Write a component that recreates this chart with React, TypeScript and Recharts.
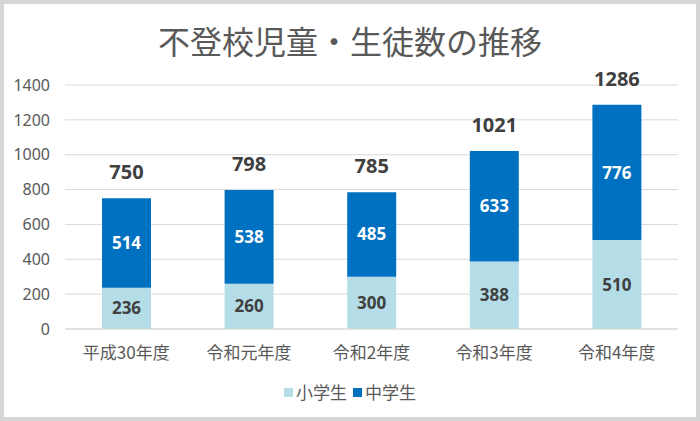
import React from "react";
import { BarChart, Bar, XAxis, YAxis, CartesianGrid, LabelList } from "recharts";

const categories = ["平成30年度", "令和元年度", "令和2年度", "令和3年度", "令和4年度"];
const elementary = [236, 260, 300, 388, 510];
const juniorHigh = [514, 538, 485, 633, 776];
const yTicks = [0, 200, 400, 600, 800, 1000, 1200, 1400];

const seriesNames = ["小学生", "中学生"];
const seriesColors = ["#b4dde7", "#0070c0"];

const data = categories.map((c, i) => ({
  name: c,
  elementary: elementary[i],
  junior: juniorHigh[i],
  total: elementary[i] + juniorHigh[i],
}));

const NUM_FONT = "'Noto Sans', 'DejaVu Sans', sans-serif";
const JP_FONT = "'Noto Sans CJK JP', 'Noto Sans', sans-serif";

export default function App() {
  return (
    <div style={{ position: "absolute", left: 0, top: 0, width: 700, height: 421, background: "#fff" }}>
      <div
        style={{
          position: "absolute",
          left: 0,
          top: 0,
          width: 700,
          height: 421,
          boxSizing: "border-box",
          border: "4px solid #d6d6d6",
          pointerEvents: "none",
          zIndex: 2,
        }}
      />
      <div
        style={{
          position: "absolute",
          left: 0,
          top: 20,
          width: 700,
          textAlign: "center",
          fontFamily: JP_FONT,
          fontSize: 32,
          color: "#595959",
          lineHeight: "40px",
        }}
      >
        不登校児童・生徒数の推移
      </div>
      <div style={{ position: "absolute", left: 0, top: 0 }}>
        <BarChart
          width={700}
          height={421}
          data={data}
          margin={{ top: 85, right: 22, bottom: 62, left: 0 }}
        >
          <CartesianGrid vertical={false} stroke="#d9d9d9" strokeWidth={1} />
          <XAxis
            dataKey="name"
            height={30}
            tickLine={false}
            axisLine={{ stroke: "#d9d9d9" }}
            tick={{ fill: "#595959", fontSize: 17, fontFamily: JP_FONT }}
            tickMargin={12}
            interval={0}
          />
          <YAxis
            width={65}
            domain={[0, 1400]}
            ticks={yTicks}
            tickLine={false}
            axisLine={false}
            tickSize={0}
            tickMargin={15}
            tick={{ fill: "#595959", fontSize: 16, fontFamily: NUM_FONT }}
          />
          <Bar dataKey="elementary" name={seriesNames[0]} stackId="a" fill={seriesColors[0]} barSize={49} isAnimationActive={false}>
            <LabelList
              dataKey="elementary"
              position="center"
              fill="#404040"
              style={{ fontSize: 17, fontWeight: 700, fontFamily: NUM_FONT }}
            />
          </Bar>
          <Bar dataKey="junior" name={seriesNames[1]} stackId="a" fill={seriesColors[1]} barSize={49} isAnimationActive={false}>
            <LabelList
              dataKey="junior"
              position="center"
              fill="#ffffff"
              style={{ fontSize: 17, fontWeight: 700, fontFamily: NUM_FONT }}
            />
            <LabelList
              dataKey="total"
              position="top"
              offset={19}
              fill="#404040"
              style={{ fontSize: 20, fontWeight: 700, fontFamily: NUM_FONT }}
            />
          </Bar>
        </BarChart>
      </div>
      <div
        style={{
          position: "absolute",
          left: 0,
          top: 380,
          width: 700,
          display: "flex",
          justifyContent: "center",
          alignItems: "center",
          fontFamily: JP_FONT,
          fontSize: 17,
          color: "#595959",
          lineHeight: "24px",
        }}
      >
        {seriesNames.map((n, i) => (
          <span key={n} style={{ display: "flex", alignItems: "center", marginLeft: i === 0 ? 0 : 6 }}>
            <span style={{ display: "inline-block", width: 9, height: 9, background: seriesColors[i], marginRight: 3 }} />
            {n}
          </span>
        ))}
      </div>
    </div>
  );
}
